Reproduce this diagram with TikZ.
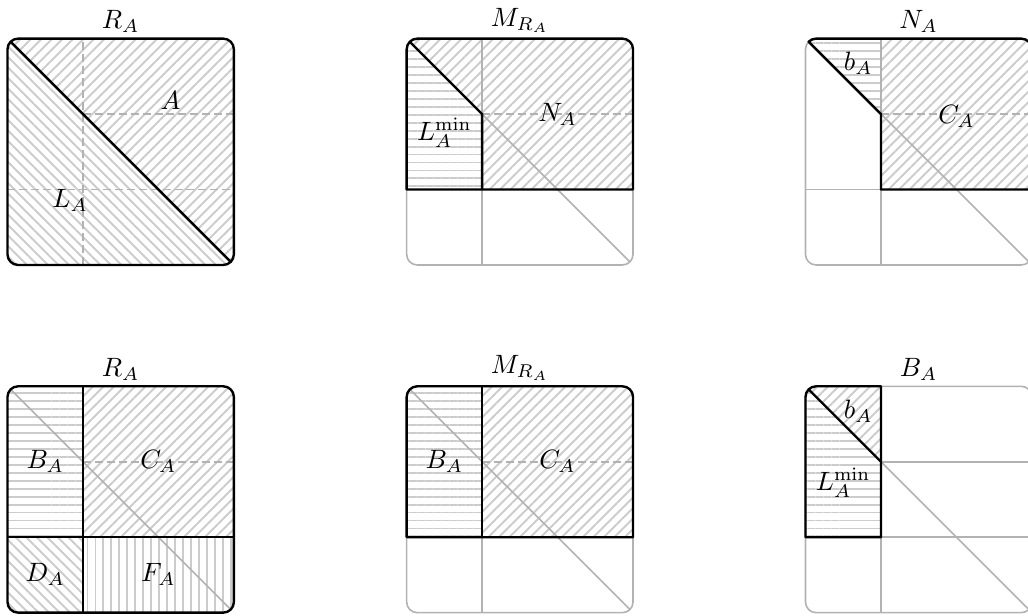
\documentclass[tikz,border=0pt]{standalone}
\usetikzlibrary{patterns.meta}
\def\cR{0.1411}
\def\cD{0.0413}
\tikzset{
  pne/.style={pattern={Lines[angle=45,distance=2.8pt,line width=0.7pt]},pattern color=black!20},
  pnw/.style={pattern={Lines[angle=-45,distance=2.8pt,line width=0.7pt]},pattern color=black!20},
  phl/.style={pattern={Lines[angle=0,distance=3pt,line width=0.7pt]},pattern color=black!20},
  pvl/.style={pattern={Lines[angle=90,distance=3pt,line width=0.7pt]},pattern color=black!20},
  blk/.style={draw=black,line width=0.9pt,line join=round},
  gry/.style={draw=black!30,line width=0.6pt},
  gdash/.style={draw=black!30,line width=0.6pt,dash pattern=on 3pt off 1.5pt},
  ttl/.style={above,inner sep=2pt},
  box/.style={rounded corners=4pt},
}
\begin{document}
\begin{tikzpicture}
\useasboundingbox (0,0) rectangle (13.625,8.164);
\clip (0,0) rectangle (13.625,8.164);

% ---------- Panel 1: R_A ----------
\begin{scope}[shift={(0.0994,4.652)}]
  \begin{scope}
    \clip[box] (0,0) rectangle (3,3);
    \path[pne] (0,3) -- (3,3) -- (3,0) -- cycle;
    \path[pnw] (0,3) -- (0,0) -- (3,0) -- cycle;
  \end{scope}
  \draw[gdash] (1,0) -- (1,3);
  \draw[gdash] (1,2) -- (3,2);
  \draw[gdash] (0,1) -- (3,1);
  \draw[blk] ({\cD},{3-\cD}) -- ({3-\cD},{\cD});
  \draw[blk,box] (0,0) rectangle (3,3);
  \node (a1) at (2.16,2.18) {$A$};
  \node (l1) at (0.83,0.85) {$L_A$};
  \node[ttl] (t1) at (1.5,3) {$R_A$};
\end{scope}

% ---------- Panel 2: M_{R_A} ----------
\begin{scope}[shift={(5.390,4.652)}]
  \begin{scope}
    \clip[box] (0,0) rectangle (3,3);
    \path[phl] (0,1) -- (0,3) -- (1,2) -- (1,1) -- cycle;
    \path[pne] (0,3) -- (3,3) -- (3,1) -- (1,1) -- (1,2) -- cycle;
  \end{scope}
  \draw[gry,box] (0,0) rectangle (3,3);
  \draw[gry] (1,0) -- (1,1);
  \draw[gry] (1,2) -- (1,3);
  \draw[gry] (1,2) -- ({3-\cD},{\cD});
  \draw[gdash] (1,2) -- (3,2);
  \draw[blk] (0,1) -- (0,{3-\cR}) arc[start angle=180,end angle=90,radius=\cR]
     -- ({3-\cR},3) arc[start angle=90,end angle=0,radius=\cR] -- (3,1) -- cycle;
  \draw[blk] ({\cD},{3-\cD}) -- (1,2) -- (1,1);
  \node (l2) at (0.5,1.75) {$L_A^{\min}$};
  \node (n2) at (2,2) {$N_A$};
  \node[ttl] (t2) at (1.5,3) {$M_{R_A}$};
\end{scope}

% ---------- Panel 3: N_A ----------
\begin{scope}[shift={(10.676,4.652)}]
  \begin{scope}
    \clip[box] (0,0) rectangle (3,3);
    \path[phl] (0,3) -- (1,3) -- (1,2) -- cycle;
    \path[pne] (1,1) rectangle (3,3);
  \end{scope}
  \draw[gry,box] (0,0) rectangle (3,3);
  \draw[gry] (1,0) -- (1,3);
  \draw[gry] (0,1) -- (1,1);
  \draw[gry] (1,2) -- ({3-\cD},{\cD});
  \draw[gdash] (1,2) -- (3,2);
  \draw[blk] ({\cD},{3-\cD}) arc[start angle=135,end angle=90,radius=\cR]
     -- ({3-\cR},3) arc[start angle=90,end angle=0,radius=\cR] -- (3,1) -- (1,1) -- (1,2) -- cycle;
  \node (b3) at (0.7,2.67) {$b_A$};
  \node (c3) at (2,1.97) {$C_A$};
  \node[ttl] (t3) at (1.5,3) {$N_A$};
\end{scope}

% ---------- Panel 4: R_A ----------
\begin{scope}[shift={(0.0994,0.044)}]
  \begin{scope}
    \clip[box] (0,0) rectangle (3,3);
    \path[phl] (0,1) rectangle (1,3);
    \path[pne] (1,1) rectangle (3,3);
    \path[pnw] (0,0) rectangle (1,1);
    \path[pvl] (1,0) rectangle (3,1);
  \end{scope}
  \draw[gdash] (1,2) -- (3,2);
  \draw[gry] ({\cD},{3-\cD}) -- ({3-\cD},{\cD});
  \draw[blk] (1,0) -- (1,3);
  \draw[blk] (0,1) -- (3,1);
  \draw[blk,box] (0,0) rectangle (3,3);
  \node (b4) at (0.5,2) {$B_A$};
  \node (c4) at (2,2) {$C_A$};
  \node (d4) at (0.5,0.5) {$D_A$};
  \node (f4) at (2,0.5) {$F_A$};
  \node[ttl] (t4) at (1.5,3) {$R_A$};
\end{scope}

% ---------- Panel 5: M_{R_A} ----------
\begin{scope}[shift={(5.390,0.044)}]
  \begin{scope}
    \clip[box] (0,0) rectangle (3,3);
    \path[phl] (0,1) rectangle (1,3);
    \path[pne] (1,1) rectangle (3,3);
  \end{scope}
  \draw[gry,box] (0,0) rectangle (3,3);
  \draw[gry] (1,0) -- (1,1);
  \draw[gry] ({\cD},{3-\cD}) -- ({3-\cD},{\cD});
  \draw[gdash] (1,2) -- (3,2);
  \draw[blk] (0,1) -- (0,{3-\cR}) arc[start angle=180,end angle=90,radius=\cR]
     -- ({3-\cR},3) arc[start angle=90,end angle=0,radius=\cR] -- (3,1) -- cycle;
  \draw[blk] (1,1) -- (1,3);
  \node (b5) at (0.5,2) {$B_A$};
  \node (c5) at (2,2) {$C_A$};
  \node[ttl] (t5) at (1.5,3) {$M_{R_A}$};
\end{scope}

% ---------- Panel 6: B_A ----------
\begin{scope}[shift={(10.676,0.044)}]
  \begin{scope}
    \clip[box] (0,0) rectangle (3,3);
    \path[pne] (0,3) -- (1,3) -- (1,2) -- cycle;
    \path[phl] (0,3) -- (1,2) -- (1,1) -- (0,1) -- cycle;
  \end{scope}
  \draw[gry,box] (0,0) rectangle (3,3);
  \draw[gry] (1,0) -- (1,1);
  \draw[gry] (1,2) -- (3,2);
  \draw[gry] (1,1) -- (3,1);
  \draw[gry] (0,1) -- (1,1);
  \draw[gry] (1,2) -- ({3-\cD},{\cD});
  \draw[blk] (0,1) -- (0,{3-\cR}) arc[start angle=180,end angle=90,radius=\cR]
     -- (1,3) -- (1,1) -- cycle;
  \draw[blk] ({\cD},{3-\cD}) -- (1,2);
  \node (b6) at (0.7,2.67) {$b_A$};
  \node (l6) at (0.5,1.72) {$L_A^{\min}$};
  \node[ttl] (t6) at (1.5,3) {$B_A$};
\end{scope}
\end{tikzpicture}
\end{document}
